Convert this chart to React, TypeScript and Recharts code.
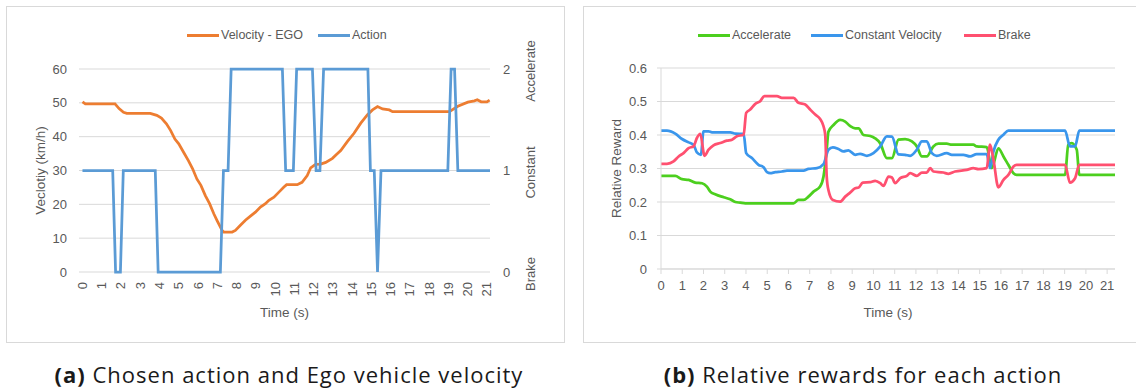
import React from 'react';
import { LineChart, Line, XAxis, YAxis, CartesianGrid, Label } from 'recharts';

// ---------- data ----------
const timeTicks = [0, 1, 2, 3, 4, 5, 6, 7, 8, 9, 10, 11, 12, 13, 14, 15, 16, 17, 18, 19, 20, 21];
const velocityTicks = [0, 10, 20, 30, 40, 50, 60];
const actionTicks = [0, 1, 2];
const actionNames = ['Brake', 'Constant', 'Accelerate'];
const rewardTicks = [0, 0.1, 0.2, 0.3, 0.4, 0.5, 0.6];

// [time (s), velocity (km/h)]
const velocityEgo: [number, number][] = [
  [0, 50.3], [0.15, 49.7], [1.69, 49.7], [1.9, 48.3], [2.13, 47.2], [2.3, 46.9], [3.52, 46.9],
  [3.86, 46.3], [4.1, 45.5], [4.36, 43.8], [4.58, 41.8], [4.8, 39.3], [5.0, 37.9], [5.25, 35.4],
  [5.5, 32.9], [5.72, 30.5], [5.94, 27.5], [6.15, 25.6], [6.38, 22.6], [6.6, 20.2], [6.82, 17.2],
  [6.99, 15.2], [7.25, 12.3], [7.34, 11.8], [7.77, 11.8], [7.94, 12.3], [8.2, 13.8], [8.46, 15.3],
  [8.72, 16.5], [8.98, 17.7], [9.24, 19.2], [9.5, 20.2], [9.68, 21.2], [9.94, 22.1], [10.2, 23.6],
  [10.46, 25.1], [10.6, 25.8], [11.15, 25.8], [11.4, 26.5], [11.67, 28.5], [11.85, 30.8],
  [12.1, 31.8], [12.37, 31.9], [12.63, 32.4], [12.98, 33.6], [13.2, 34.8], [13.41, 35.9],
  [13.76, 38.6], [14.1, 41.0], [14.45, 44.0], [14.8, 46.5], [15.06, 47.9], [15.32, 48.9],
  [15.58, 48.2], [15.93, 47.9], [16.1, 47.4], [19.05, 47.4], [19.49, 49.0], [20.01, 50.2],
  [20.35, 50.6], [20.5, 50.9], [20.7, 50.3], [21.0, 50.3], [21.14, 50.8],
];

// [time (s), action index: 0 brake, 1 constant, 2 accelerate]
const actionChosen: [number, number][] = [
  [0, 1], [1.57, 1], [1.72, 0], [1.97, 0], [2.12, 1], [3.78, 1], [3.93, 0], [7.16, 0], [7.32, 1],
  [7.56, 1], [7.72, 2], [10.38, 2], [10.55, 1], [10.95, 1], [11.12, 2], [11.94, 2], [12.13, 1],
  [12.33, 1], [12.52, 2], [14.82, 2], [14.95, 1], [15.15, 1], [15.32, 0], [15.5, 1], [18.97, 1],
  [19.14, 2], [19.32, 2], [19.49, 1], [21.16, 1],
];

// [time (s), relative reward]
const accelerate: [number, number][] = [
  [0, 0.278], [0.67, 0.278], [0.99, 0.268], [1.3, 0.266], [1.61, 0.258], [1.93, 0.256], [2.16, 0.246],
  [2.32, 0.231], [2.55, 0.223], [2.95, 0.214], [3.26, 0.208], [3.5, 0.2], [3.73, 0.198], [3.97, 0.196],
  [6.24, 0.196], [6.47, 0.206], [6.71, 0.206], [6.94, 0.216], [7.18, 0.231], [7.49, 0.246],
  [7.65, 0.276], [7.8, 0.356], [7.88, 0.41], [8.12, 0.43], [8.43, 0.445], [8.67, 0.44], [8.9, 0.427],
  [9.14, 0.42], [9.3, 0.42], [9.53, 0.4], [9.85, 0.397], [10.08, 0.39], [10.32, 0.375], [10.63, 0.331],
  [10.87, 0.331], [11.18, 0.386], [11.49, 0.388], [11.81, 0.381], [12.04, 0.366], [12.28, 0.336],
  [12.51, 0.336], [12.82, 0.366], [13.06, 0.374], [13.45, 0.374], [13.69, 0.371], [14.7, 0.371],
  [14.86, 0.366], [15.33, 0.364], [15.57, 0.301], [15.88, 0.36], [16.12, 0.336], [16.35, 0.311],
  [16.59, 0.286], [16.74, 0.281], [19.02, 0.281], [19.17, 0.371], [19.33, 0.376], [19.57, 0.356],
  [19.69, 0.281], [21.37, 0.281],
];

const constantVelocity: [number, number][] = [
  [0, 0.413], [0.28, 0.413], [0.67, 0.404], [0.99, 0.388], [1.3, 0.378], [1.53, 0.371], [1.69, 0.348],
  [1.88, 0.341], [2.0, 0.411], [2.24, 0.411], [2.4, 0.408], [3.26, 0.408], [3.5, 0.404], [3.89, 0.403],
  [4.01, 0.346], [4.28, 0.331], [4.59, 0.311], [4.83, 0.304], [4.99, 0.289], [5.14, 0.286],
  [5.38, 0.289], [5.69, 0.291], [5.93, 0.294], [6.71, 0.294], [6.94, 0.299], [7.34, 0.301],
  [7.65, 0.313], [7.88, 0.356], [8.09, 0.363], [8.35, 0.358], [8.59, 0.351], [8.82, 0.354],
  [9.14, 0.341], [9.37, 0.344], [9.69, 0.338], [10.0, 0.346], [10.32, 0.366], [10.63, 0.396],
  [10.87, 0.395], [11.18, 0.342], [11.49, 0.341], [11.73, 0.338], [12.04, 0.356], [12.28, 0.381],
  [12.51, 0.381], [12.75, 0.346], [12.98, 0.338], [13.45, 0.346], [13.69, 0.341], [14.23, 0.341],
  [14.55, 0.336], [14.86, 0.343], [15.33, 0.343], [15.49, 0.301], [15.65, 0.351], [15.88, 0.386],
  [16.12, 0.401], [16.35, 0.413], [19.02, 0.413], [19.25, 0.366], [19.49, 0.366], [19.69, 0.413],
  [21.37, 0.413],
];

const brake: [number, number][] = [
  [0, 0.314], [0.28, 0.314], [0.59, 0.321], [0.83, 0.336], [1.06, 0.346], [1.3, 0.361], [1.53, 0.366],
  [1.69, 0.391], [1.85, 0.403], [2.05, 0.338], [2.24, 0.356], [2.47, 0.369], [2.79, 0.376],
  [3.1, 0.383], [3.34, 0.386], [3.57, 0.396], [3.89, 0.401], [4.01, 0.466], [4.2, 0.476],
  [4.44, 0.493], [4.67, 0.501], [4.87, 0.516], [5.46, 0.516], [5.69, 0.511], [6.24, 0.511],
  [6.47, 0.496], [6.79, 0.491], [7.02, 0.476], [7.26, 0.461], [7.49, 0.448], [7.65, 0.426],
  [7.73, 0.401], [7.8, 0.276], [7.88, 0.236], [8.09, 0.206], [8.43, 0.201], [8.67, 0.216],
  [8.9, 0.228], [9.14, 0.241], [9.3, 0.243], [9.5, 0.258], [9.85, 0.259], [10.08, 0.263],
  [10.32, 0.256], [10.47, 0.248], [10.71, 0.276], [10.87, 0.273], [11.02, 0.256], [11.26, 0.271],
  [11.57, 0.278], [11.73, 0.286], [12.04, 0.278], [12.28, 0.288], [12.51, 0.288], [12.67, 0.301],
  [12.82, 0.291], [13.29, 0.288], [13.53, 0.284], [13.84, 0.291], [14.39, 0.296], [14.7, 0.301],
  [14.94, 0.298], [15.33, 0.301], [15.49, 0.371], [15.65, 0.326], [15.88, 0.244], [16.12, 0.266],
  [16.35, 0.281], [16.59, 0.306], [16.74, 0.311], [19.02, 0.311], [19.25, 0.258], [19.49, 0.271],
  [19.69, 0.311], [21.37, 0.311],
];

// ---------- helpers ----------
const toPoints = (arr: [number, number][]) => arr.map(([t, v]) => ({ t, v }));

const FONT = '"Liberation Sans", Arial, sans-serif';
const TXT = '#595959';
const GRID = '#d9d9d9';

const C_ORANGE = '#ED7D31';
const C_ACTION = '#5B9BD5';
const C_GREEN = '#4CCF1E';
const C_BLUE = '#3A96EC';
const C_RED = '#FF5070';

const RotatedTimeTick = (props: any) => {
  const { x, y, payload } = props;
  return (
    <text
      x={x}
      y={y}
      transform={`rotate(-90 ${x} ${y})`}
      textAnchor="end"
      dominantBaseline="central"
      fill={TXT}
      fontSize={13}
      fontFamily={FONT}
    >
      {payload.value}
    </text>
  );
};

const ActionTick = (props: any) => {
  const { x, y, payload } = props;
  const nx = x + 40;
  const ny = y + 2;
  return (
    <g>
      <text x={x + 13} y={y} dominantBaseline="central" textAnchor="start" fill={TXT} fontSize={13} fontFamily={FONT}>
        {payload.value}
      </text>
      <text
        x={nx}
        y={ny}
        transform={`rotate(-90 ${nx} ${ny})`}
        textAnchor="middle"
        dominantBaseline="central"
        fill={TXT}
        fontSize={13}
        fontFamily={FONT}
      >
        {actionNames[payload.value]}
      </text>
    </g>
  );
};

const LegendItem = ({ left, color, label }: { left: number; color: string; label: string }) => (
  <div style={{ position: 'absolute', left, top: 27, height: 16, display: 'flex', alignItems: 'center', whiteSpace: 'nowrap' }}>
    <div style={{ width: 32, height: 3, background: color, marginRight: 2 }} />
    <span style={{ fontFamily: FONT, fontSize: 12.5, color: TXT }}>{label}</span>
  </div>
);

const tickStyle = { fill: TXT, fontSize: 13, fontFamily: FONT };
const titleStyle = { fill: TXT, fontSize: 13.5, fontFamily: FONT, textAnchor: 'middle' as const };

const captionStyle: React.CSSProperties = {
  position: 'absolute',
  top: 359,
  width: 600,
  textAlign: 'center',
  fontFamily: '"Open Sans", sans-serif',
  fontSize: 22,
  letterSpacing: 1,
  color: '#1a1a1a',
  whiteSpace: 'nowrap',
};

export default function App() {
  return (
    <div style={{ position: 'absolute', left: 0, top: 0, width: 1136, height: 392, overflow: 'hidden', background: '#fff' }}>
      {/* frames */}
      <div style={{ position: 'absolute', left: 6, top: 6, width: 557, height: 335, border: `1px solid ${GRID}` }} />
      <div style={{ position: 'absolute', left: 583, top: 6, width: 600, height: 335, border: `1px solid ${GRID}` }} />

      {/* chart (a) */}
      <div style={{ position: 'absolute', left: 0, top: 0 }}>
        <LineChart width={560} height={342} margin={{ top: 69, right: 0, bottom: 0, left: 0 }}>
          <CartesianGrid yAxisId="v" vertical={false} stroke={GRID} strokeWidth={1} />
          <XAxis
            dataKey="t"
            type="number"
            domain={[-0.18, 21.16]}
            ticks={timeTicks}
            interval={0}
            height={70}
            axisLine={false}
            tickLine={false}
            tickSize={0}
            tickMargin={10}
            tick={RotatedTimeTick}
          >
            <Label value="Time (s)" position="insideBottom" offset={25} style={titleStyle} />
          </XAxis>
          <YAxis
            yAxisId="v"
            domain={[0, 60]}
            ticks={velocityTicks}
            interval={0}
            width={79}
            axisLine={false}
            tickLine={false}
            tickSize={0}
            tickMargin={12}
            tick={tickStyle}
          >
            <Label value="Veclotiy (km/h)" angle={-90} position="insideLeft" offset={40} style={titleStyle} />
          </YAxis>
          <YAxis
            yAxisId="a"
            orientation="right"
            domain={[0, 2]}
            ticks={actionTicks}
            interval={0}
            width={70}
            axisLine={false}
            tickLine={false}
            tickSize={0}
            tickMargin={0}
            tick={ActionTick}
          />
          <Line
            yAxisId="v"
            data={toPoints(velocityEgo)}
            dataKey="v"
            type="linear"
            stroke={C_ORANGE}
            strokeWidth={2.75}
            dot={false}
            isAnimationActive={false}
          />
          <Line
            yAxisId="a"
            data={toPoints(actionChosen)}
            dataKey="v"
            type="linear"
            stroke={C_ACTION}
            strokeWidth={2.75}
            dot={false}
            isAnimationActive={false}
          />
        </LineChart>
      </div>
      <LegendItem left={187} color={C_ORANGE} label="Velocity - EGO" />
      <LegendItem left={318} color={C_ACTION} label="Action" />

      {/* chart (b) */}
      <div style={{ position: 'absolute', left: 570, top: 0 }}>
        <LineChart width={566} height={342} margin={{ top: 68, right: 21, bottom: 0, left: 0 }}>
          <CartesianGrid vertical={false} stroke={GRID} strokeWidth={1} />
          <XAxis
            dataKey="t"
            type="number"
            domain={[0, 21.37]}
            ticks={timeTicks}
            interval={0}
            height={73}
            axisLine={{ stroke: GRID }}
            tickLine={{ stroke: GRID }}
            tickSize={5}
            tickMargin={7}
            tick={tickStyle}
          >
            <Label value="Time (s)" position="insideBottom" offset={25} style={titleStyle} />
          </XAxis>
          <YAxis
            domain={[0, 0.6]}
            ticks={rewardTicks}
            interval={0}
            width={91}
            axisLine={{ stroke: GRID }}
            tickLine={{ stroke: GRID }}
            tickSize={4}
            tickMargin={10}
            tick={tickStyle}
          >
            <Label value="Relative Reward" angle={-90} position="insideLeft" offset={46} style={titleStyle} />
          </YAxis>
          <Line data={toPoints(accelerate)} dataKey="v" type="monotone" stroke={C_GREEN} strokeWidth={2.75} dot={false} isAnimationActive={false} />
          <Line data={toPoints(constantVelocity)} dataKey="v" type="monotone" stroke={C_BLUE} strokeWidth={2.75} dot={false} isAnimationActive={false} />
          <Line data={toPoints(brake)} dataKey="v" type="monotone" stroke={C_RED} strokeWidth={2.75} dot={false} isAnimationActive={false} />
        </LineChart>
      </div>
      <LegendItem left={698} color={C_GREEN} label="Accelerate" />
      <LegendItem left={811} color={C_BLUE} label="Constant Velocity" />
      <LegendItem left={964} color={C_RED} label="Brake" />

      {/* captions */}
      <div style={{ ...captionStyle, left: -11 }}>
        <b>(a)</b> Chosen action and Ego vehicle velocity
      </div>
      <div style={{ ...captionStyle, left: 563 }}>
        <b>(b)</b> Relative rewards for each action
      </div>
    </div>
  );
}
